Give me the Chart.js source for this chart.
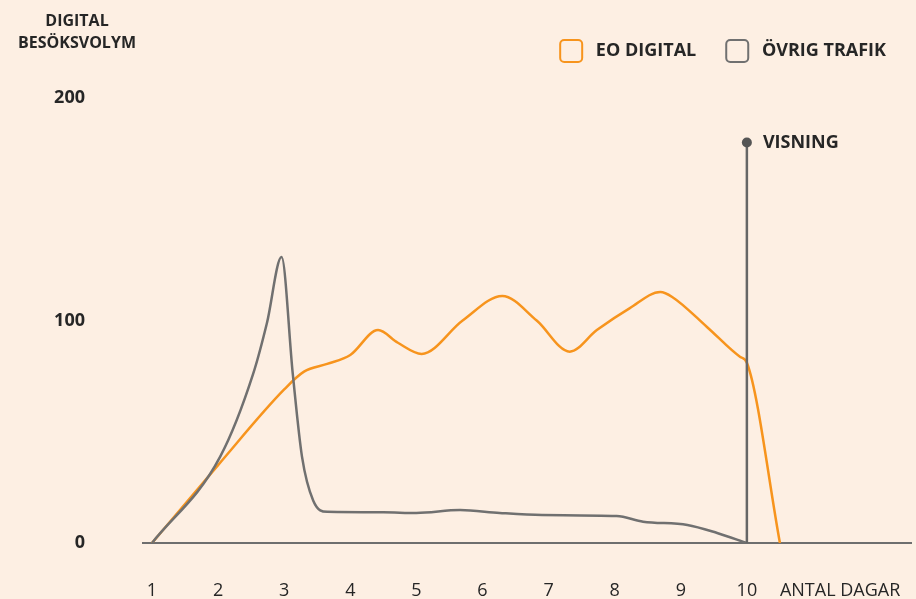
<!DOCTYPE html>
<html>
<head>
<meta charset="utf-8">
<script src="https://cdn.jsdelivr.net/npm/chart.js@4/dist/chart.umd.min.js"></script>
<style>
  html, body { margin: 0; padding: 0; background: #FDEFE3; }
  #wrap { width: 916px; height: 599px; }
</style>
</head>
<body>
<div id="wrap"><canvas id="chart"></canvas></div>
<script>
// Data
const eoDays    = [1, 2, 3, 3.3, 3.65, 4, 4.42, 4.72, 5.08, 5.7, 6.3, 6.82, 7.32, 7.73, 8.23, 8.69, 8.87, 9.4, 9.9, 10, 10.5];
const eoValues  = [0, 35, 69, 77, 80.5, 84.5, 95.7, 90, 85, 100, 111, 100, 86, 95.7, 105.6, 112.8, 110.6, 97, 83.6, 81, 0];

const ovrigDays   = [1, 2.03, 2.53, 2.74, 2.96, 3.13, 3.27, 3.44, 3.65, 4.5, 5, 5.66, 6.26, 6.9, 8.03, 8.43, 9.1, 9.55, 10];
const ovrigValues = [0, 38.7, 76, 99, 128.5, 76, 38.7, 19, 14, 13.8, 13.5, 14.8, 13.5, 12.6, 12.1, 9.6, 8.1, 4.5, 0];

const visningDay = 10;
const visningValue = 180;
const visningLabel = 'VISNING';

const xTickValues = [1, 2, 3, 4, 5, 6, 7, 8, 9, 10];
const xAxisLabel = 'ANTAL DAGAR';
const xAxisLabelAt = 11.41;
const yTickValues = [0, 100, 200];
const yAxisTitle = ['DIGITAL', 'BESÖKSVOLYM'];

const seriesNames = ['EO DIGITAL', 'ÖVRIG TRAFIK'];

const ORANGE = '#F7941D';
const GREY = '#707070';
const TEXT = '#262626';
const FONT = "'Open Sans', Lato, sans-serif";

const toPoints = (xs, ys) => xs.map((x, i) => ({ x, y: ys[i] }));

const background = {
  id: 'background',
  beforeDraw(chart) {
    const { ctx, width, height } = chart;
    ctx.save();
    ctx.fillStyle = '#FDEFE3';
    ctx.fillRect(0, 0, width, height);
    ctx.restore();
  }
};

// y axis title (two centred lines) and the VISNING marker label
const annotations = {
  id: 'annotations',
  afterDraw(chart) {
    const { ctx, scales: { x, y } } = chart;
    ctx.save();
    ctx.fillStyle = TEXT;
    ctx.textBaseline = 'middle';
    ctx.textAlign = 'center';
    ctx.font = `bold 16px ${FONT}`;
    ctx.fillText(yAxisTitle[0], 77, 21);
    ctx.fillText(yAxisTitle[1], 77, 43);

    ctx.textAlign = 'left';
    ctx.font = `bold 18px ${FONT}`;
    ctx.fillText(visningLabel, x.getPixelForValue(visningDay) + 16, y.getPixelForValue(visningValue));
    ctx.restore();
  }
};

new Chart(document.getElementById('chart'), {
  type: 'line',
  data: {
    datasets: [
      {
        label: seriesNames[0],
        data: toPoints(eoDays, eoValues),
        borderColor: ORANGE,
        borderWidth: 2.5,
        pointRadius: 0,
        cubicInterpolationMode: 'monotone',
        fill: false,
        order: 3
      },
      {
        label: seriesNames[1],
        data: toPoints(ovrigDays, ovrigValues),
        borderColor: GREY,
        borderWidth: 2.5,
        pointRadius: 0,
        cubicInterpolationMode: 'monotone',
        fill: false,
        order: 2
      },
      {
        label: visningLabel,
        data: [{ x: visningDay, y: 0 }, { x: visningDay, y: visningValue }],
        borderColor: '#666666',
        borderWidth: 2.5,
        pointRadius: [0, 5],
        pointBackgroundColor: '#555555',
        pointBorderWidth: 0,
        tension: 0,
        fill: false,
        order: 1
      }
    ]
  },
  options: {
    responsive: true,
    maintainAspectRatio: false,
    animation: false,
    layout: { padding: { top: 10, right: 0, bottom: 0, left: 0 } },
    plugins: {
      tooltip: { enabled: false },
      legend: {
        position: 'top',
        align: 'end',
        labels: {
          boxWidth: 22,
          boxHeight: 22,
          padding: 30,
          color: TEXT,
          useBorderRadius: true,
          borderRadius: 4,
          font: { family: FONT, size: 18, weight: 'bold' },
          generateLabels: chart => [0, 1].map(i => ({
            text: ' ' + seriesNames[i],
            fillStyle: 'transparent',
            strokeStyle: chart.data.datasets[i].borderColor,
            lineWidth: 2,
            borderRadius: 4,
            datasetIndex: i,
            fontColor: TEXT
          }))
        }
      }
    },
    scales: {
      x: {
        type: 'linear',
        min: 0.864,
        max: 12.483,
        grid: { display: false, drawTicks: false },
        border: { display: true, color: '#6E6E6E', width: 2 },
        afterFit: s => {
          s.height = 56;
          s.paddingLeft = 0;
          s.paddingRight = 0;
        },
        afterBuildTicks: s => {
          s.ticks = xTickValues.concat([xAxisLabelAt]).map(v => ({ value: v }));
        },
        ticks: {
          padding: 37,
          color: TEXT,
          autoSkip: false,
          maxRotation: 0,
          font: { family: FONT, size: 18 },
          callback: v => (v === xAxisLabelAt ? xAxisLabel : String(v))
        }
      },
      y: {
        min: 0,
        max: 211.7,
        grid: { display: false, drawTicks: false },
        border: { display: false },
        afterFit: s => {
          s.width = 143;
          s.paddingTop = 0;
          s.paddingBottom = 0;
        },
        afterBuildTicks: s => {
          s.ticks = yTickValues.map(v => ({ value: v }));
        },
        ticks: {
          padding: 58,
          color: TEXT,
          font: { family: FONT, size: 18, weight: 'bold' }
        }
      }
    }
  },
  plugins: [background, annotations]
});
</script>
</body>
</html>
